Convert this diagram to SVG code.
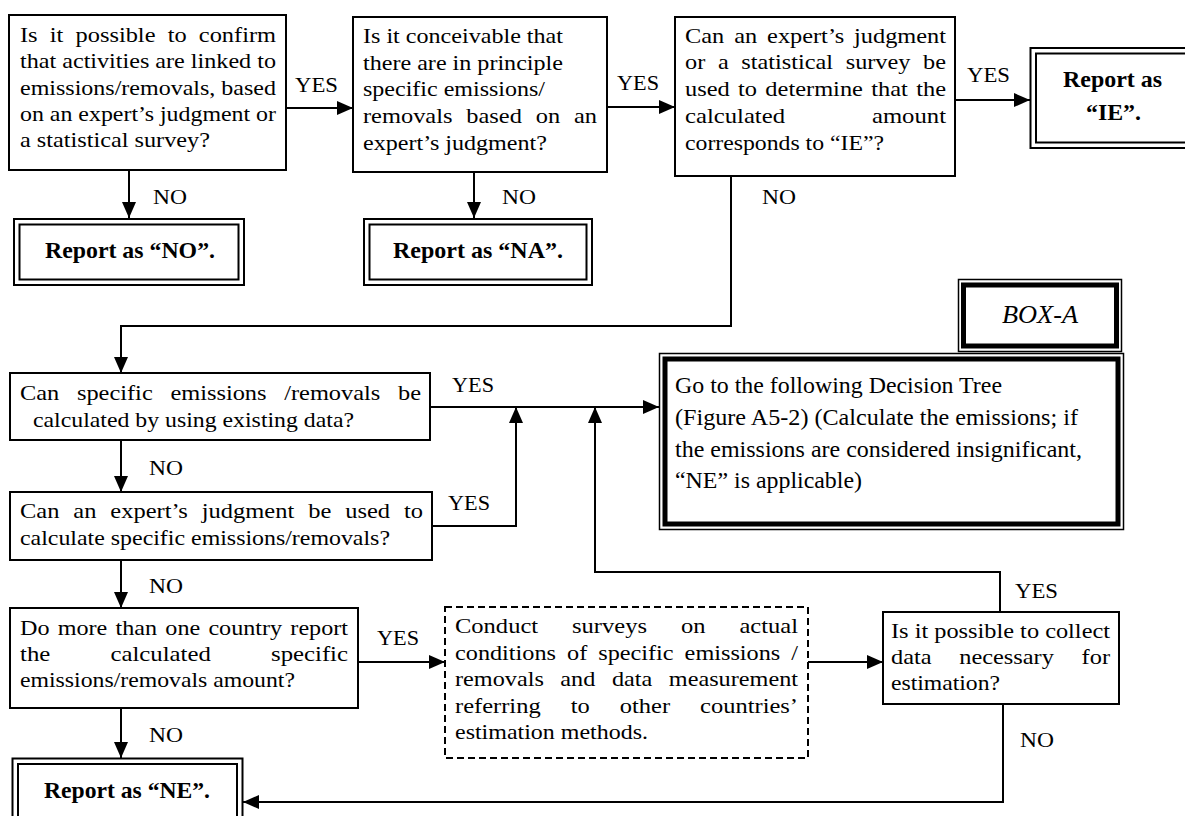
<svg xmlns="http://www.w3.org/2000/svg" width="1185" height="816" viewBox="0 0 1185 816">
<defs>
<style>
.bx{fill:#fff;stroke:#000;stroke-width:2}
.dash{fill:#fff;stroke:#000;stroke-width:2;stroke-dasharray:7 4}
.thin{fill:none;stroke:#000;stroke-width:1.5}
.thick{fill:none;stroke:#000;stroke-width:5}
.dbl{fill:none;stroke:#000;stroke-width:2}
text{font-family:"Liberation Serif","Times New Roman",serif;fill:#000}
.t{font-size:22px}
.m{font-size:23px}
.l{font-size:22px}
.r{font-size:24px;font-weight:bold}
.i{font-size:25px;font-style:italic}
.c{fill:none;stroke:#000;stroke-width:2}
</style>
<marker id="ah" markerWidth="16" markerHeight="14" refX="16" refY="7" orient="auto" markerUnits="userSpaceOnUse">
<path d="M0,0 L16,7 L0,14 z" fill="#000"/>
</marker>
</defs>
<rect width="1185" height="816" fill="#fff"/>

<g id="connectors">
<path class="c" d="M286,108 H353" marker-end="url(#ah)"/>
<path class="c" d="M129,170 V218" marker-end="url(#ah)"/>
<path class="c" d="M607,107 H675" marker-end="url(#ah)"/>
<path class="c" d="M474,172 V218" marker-end="url(#ah)"/>
<path class="c" d="M955,100 H1030" marker-end="url(#ah)"/>
<path class="c" d="M731,176 V326 H121 V373" marker-end="url(#ah)"/>
<path class="c" d="M430,407 H659" marker-end="url(#ah)"/>
<path class="c" d="M121,440 V492" marker-end="url(#ah)"/>
<path class="c" d="M432,526 H516 V407" marker-end="url(#ah)"/>
<path class="c" d="M121,560 V608" marker-end="url(#ah)"/>
<path class="c" d="M358,662 H445" marker-end="url(#ah)"/>
<path class="c" d="M808,662 H883" marker-end="url(#ah)"/>
<path class="c" d="M1000,612 V572 H595 V407" marker-end="url(#ah)"/>
<path class="c" d="M1003,704 V802 H243" marker-end="url(#ah)"/>
<path class="c" d="M121,708 V758" marker-end="url(#ah)"/>
<text class="l" x="295" y="92" textLength="43" lengthAdjust="spacingAndGlyphs">YES</text>
<text class="l" x="617" y="90" textLength="42" lengthAdjust="spacingAndGlyphs">YES</text>
<text class="l" x="967" y="82" textLength="43" lengthAdjust="spacingAndGlyphs">YES</text>
<text class="l" x="153" y="204" textLength="34" lengthAdjust="spacingAndGlyphs">NO</text>
<text class="l" x="502" y="204" textLength="34" lengthAdjust="spacingAndGlyphs">NO</text>
<text class="l" x="762" y="204" textLength="34" lengthAdjust="spacingAndGlyphs">NO</text>
<text class="l" x="452" y="392" textLength="42" lengthAdjust="spacingAndGlyphs">YES</text>
<text class="l" x="149" y="475" textLength="34" lengthAdjust="spacingAndGlyphs">NO</text>
<text class="l" x="448" y="510" textLength="42" lengthAdjust="spacingAndGlyphs">YES</text>
<text class="l" x="149" y="593" textLength="34" lengthAdjust="spacingAndGlyphs">NO</text>
<text class="l" x="377" y="645" textLength="42" lengthAdjust="spacingAndGlyphs">YES</text>
<text class="l" x="149" y="742" textLength="34" lengthAdjust="spacingAndGlyphs">NO</text>
<text class="l" x="1015" y="598" textLength="43" lengthAdjust="spacingAndGlyphs">YES</text>
<text class="l" x="1020" y="747" textLength="34" lengthAdjust="spacingAndGlyphs">NO</text>
</g>

<g id="q1">
<rect class="bx" x="9" y="15" width="277" height="155"/>
<text class="t" x="20" y="42" textLength="256" lengthAdjust="spacingAndGlyphs" style="word-spacing:5.5px">Is it possible to confirm</text>
<text class="t" x="20" y="68" textLength="256" lengthAdjust="spacingAndGlyphs">that activities are linked to</text>
<text class="t" x="20" y="95" textLength="256" lengthAdjust="spacingAndGlyphs">emissions/removals, based</text>
<text class="t" x="20" y="121" textLength="256" lengthAdjust="spacingAndGlyphs">on an expert’s judgment or</text>
<text class="t" x="20" y="147" textLength="190" lengthAdjust="spacingAndGlyphs">a statistical survey?</text>
</g>

<g id="q2">
<rect class="bx" x="353" y="17" width="254" height="155"/>
<text class="t" x="363" y="43" textLength="200" lengthAdjust="spacingAndGlyphs">Is it conceivable that</text>
<text class="t" x="363" y="70" textLength="200" lengthAdjust="spacingAndGlyphs">there are in principle</text>
<text class="t" x="363" y="96" textLength="182" lengthAdjust="spacingAndGlyphs">specific emissions/</text>
<text class="t" x="363" y="123" textLength="234" lengthAdjust="spacingAndGlyphs" style="word-spacing:7px">removals based on an</text>
<text class="t" x="363" y="150" textLength="184" lengthAdjust="spacingAndGlyphs">expert’s judgment?</text>
</g>

<g id="q3">
<rect class="bx" x="675" y="17" width="280" height="159"/>
<text class="t" x="685" y="43" textLength="261" lengthAdjust="spacingAndGlyphs" style="word-spacing:3.5px">Can an expert’s judgment</text>
<text class="t" x="685" y="69" textLength="261" lengthAdjust="spacingAndGlyphs" style="word-spacing:6px">or a statistical survey be</text>
<text class="t" x="685" y="96" textLength="261" lengthAdjust="spacingAndGlyphs" style="word-spacing:2px">used to determine that the</text>
<text class="t" x="685" y="123" textLength="261" lengthAdjust="spacingAndGlyphs" style="word-spacing:72px">calculated amount</text>
<text class="t" x="685" y="150" textLength="199" lengthAdjust="spacingAndGlyphs">corresponds to “IE”?</text>
</g>

<g id="rNO">
<rect class="dbl" x="14" y="219" width="230" height="66"/>
<rect class="dbl" x="19.5" y="224.5" width="219" height="55"/>
<text class="r" x="45" y="258" textLength="170" lengthAdjust="spacingAndGlyphs">Report as “NO”.</text>
</g>

<g id="rNA">
<rect class="dbl" x="364" y="219" width="228" height="66"/>
<rect class="dbl" x="369.5" y="224.5" width="217" height="55"/>
<text class="r" x="393" y="258" textLength="170" lengthAdjust="spacingAndGlyphs">Report as “NA”.</text>
</g>

<g id="rIE">
<rect class="dbl" x="1030.5" y="48" width="200" height="100"/>
<rect class="dbl" x="1036" y="53.5" width="200" height="89"/>
<text class="r" x="1063" y="87" textLength="99" lengthAdjust="spacingAndGlyphs">Report as</text>
<text class="r" x="1086" y="120" textLength="55" lengthAdjust="spacingAndGlyphs">“IE”.</text>
</g>

<g id="boxA">
<rect class="thin" x="958.5" y="279.5" width="163" height="72"/>
<rect class="thick" x="963.5" y="285" width="153" height="61"/>
<text class="i" x="1002" y="323" textLength="76" lengthAdjust="spacingAndGlyphs">BOX-A</text>
</g>

<g id="goto">
<rect x="659.5" y="353.5" width="464" height="176" fill="#fff" class="thin"/>
<rect class="thick" x="665" y="359" width="453" height="165"/>
<text class="m" x="675" y="393" textLength="327" lengthAdjust="spacingAndGlyphs">Go to the following Decision Tree</text>
<text class="m" x="675" y="425" textLength="403" lengthAdjust="spacingAndGlyphs">(Figure A5-2) (Calculate the emissions; if</text>
<text class="m" x="675" y="457" textLength="407" lengthAdjust="spacingAndGlyphs">the emissions are considered insignificant,</text>
<text class="m" x="675" y="488" textLength="187" lengthAdjust="spacingAndGlyphs">“NE” is applicable)</text>
</g>

<g id="q4">
<rect class="bx" x="10" y="373" width="420" height="67"/>
<text class="t" x="20" y="400" textLength="401" lengthAdjust="spacingAndGlyphs" style="word-spacing:10.5px">Can specific emissions /removals be</text>
<text class="t" x="33" y="427" textLength="321" lengthAdjust="spacingAndGlyphs">calculated by using existing data?</text>
</g>

<g id="q5">
<rect class="bx" x="10" y="492" width="422" height="68"/>
<text class="t" x="20" y="518" textLength="403" lengthAdjust="spacingAndGlyphs" style="word-spacing:7px">Can an expert’s judgment be used to</text>
<text class="t" x="20" y="545" textLength="370" lengthAdjust="spacingAndGlyphs">calculate specific emissions/removals?</text>
</g>

<g id="q6">
<rect class="bx" x="10" y="608" width="348" height="100"/>
<text class="t" x="20" y="635" textLength="328" lengthAdjust="spacingAndGlyphs" style="word-spacing:2px">Do more than one country report</text>
<text class="t" x="20" y="661" textLength="328" lengthAdjust="spacingAndGlyphs" style="word-spacing:48px">the calculated specific</text>
<text class="t" x="20" y="687" textLength="275" lengthAdjust="spacingAndGlyphs">emissions/removals amount?</text>
</g>

<g id="survey">
<rect class="dash" x="445" y="607" width="363" height="151"/>
<text class="t" x="455" y="633" textLength="343" lengthAdjust="spacingAndGlyphs" style="word-spacing:25px">Conduct surveys on actual</text>
<text class="t" x="455" y="659.5" textLength="343" lengthAdjust="spacingAndGlyphs" style="word-spacing:4.5px">conditions of specific emissions /</text>
<text class="t" x="455" y="686" textLength="343" lengthAdjust="spacingAndGlyphs" style="word-spacing:9.5px">removals and data measurement</text>
<text class="t" x="455" y="712.5" textLength="343" lengthAdjust="spacingAndGlyphs" style="word-spacing:21.5px">referring to other countries’</text>
<text class="t" x="455" y="739" textLength="193" lengthAdjust="spacingAndGlyphs">estimation methods.</text>
</g>

<g id="q7">
<rect class="bx" x="883" y="612" width="236" height="92"/>
<text class="t" x="891" y="638" textLength="219" lengthAdjust="spacingAndGlyphs">Is it possible to collect</text>
<text class="t" x="891" y="664" textLength="219" lengthAdjust="spacingAndGlyphs" style="word-spacing:19.5px">data necessary for</text>
<text class="t" x="891" y="690" textLength="109" lengthAdjust="spacingAndGlyphs">estimation?</text>
</g>

<g id="rNE">
<rect class="dbl" x="12.5" y="758.5" width="230" height="100"/>
<rect class="dbl" x="18" y="764" width="219" height="100"/>
<text class="r" x="44" y="798" textLength="166" lengthAdjust="spacingAndGlyphs">Report as “NE”.</text>
</g>
</svg>
